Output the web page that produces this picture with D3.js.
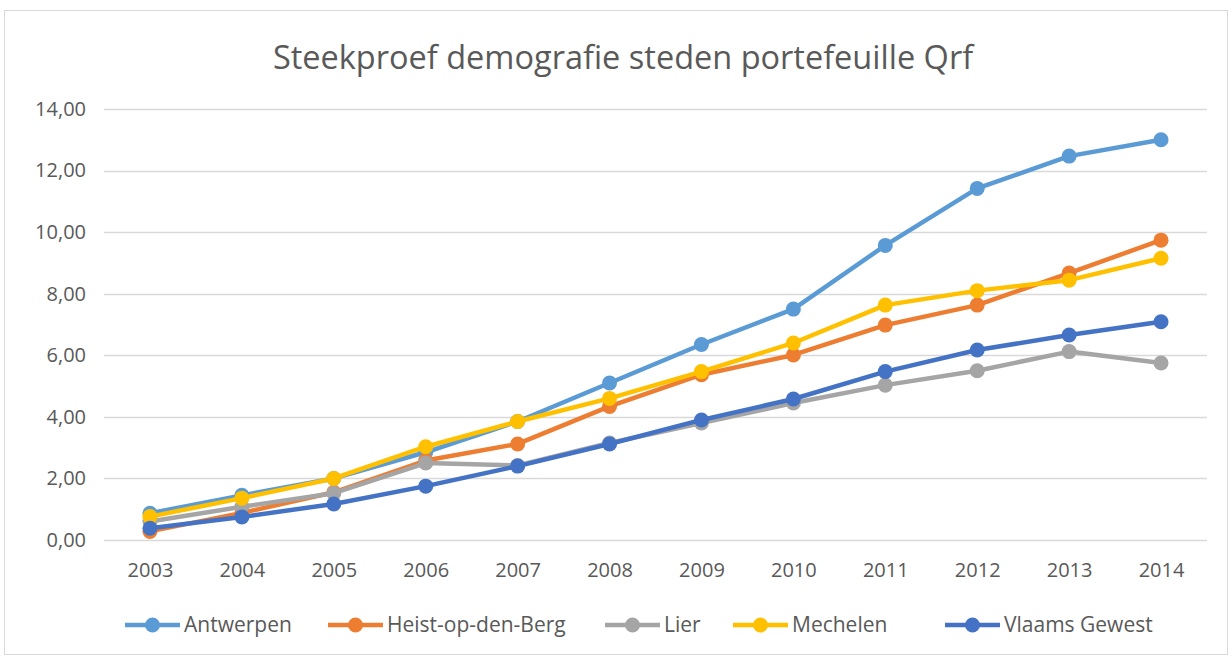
<!DOCTYPE html>
<html>
<head>
<meta charset="utf-8">
<script src="https://cdn.jsdelivr.net/npm/d3@7"></script>
<style>
  html, body { margin: 0; padding: 0; background: #fff; }
  svg { display: block; }
</style>
</head>
<body>
<div id="chart"></div>
<script>
// ---------------------------------------------------------------------------
// Data
// ---------------------------------------------------------------------------
const years = ['2003', '2004', '2005', '2006', '2007', '2008', '2009', '2010', '2011', '2012', '2013', '2014'];
const antwerpen = [0.87, 1.45, 2.0, 2.85, 3.85, 5.1, 6.35, 7.5, 9.57, 11.42, 12.47, 13.0];
const heist = [0.28, 0.88, 1.55, 2.58, 3.12, 4.34, 5.37, 6.01, 6.98, 7.63, 8.67, 9.74];
const lier = [0.6, 1.08, 1.52, 2.5, 2.42, 3.15, 3.8, 4.45, 5.03, 5.5, 6.12, 5.75];
const mechelen = [0.76, 1.36, 2.0, 3.03, 3.85, 4.6, 5.47, 6.4, 7.63, 8.1, 8.44, 9.15];
const vlaams = [0.38, 0.75, 1.17, 1.75, 2.4, 3.12, 3.9, 4.58, 5.47, 6.17, 6.66, 7.09];
const yTicks = [0, 2, 4, 6, 8, 10, 12, 14];

const series = [
  { name: 'Antwerpen', values: antwerpen, color: '#5b9bd5' },
  { name: 'Heist-op-den-Berg', values: heist, color: '#ed7d31' },
  { name: 'Lier', values: lier, color: '#a5a5a5' },
  { name: 'Mechelen', values: mechelen, color: '#ffc000' },
  { name: 'Vlaams Gewest', values: vlaams, color: '#4472c4' }
];

const width = 1232, height = 657;
const margin = { top: 109, right: 25, bottom: 117, left: 104 };
const font = '"Open Sans", sans-serif';
const textColor = '#595959';

const svg = d3.select('#chart').append('svg')
  .attr('width', width)
  .attr('height', height);

// chart frame
svg.append('rect')
  .attr('x', 4.5).attr('y', 10.5)
  .attr('width', 1223).attr('height', 644)
  .attr('fill', '#fff')
  .attr('stroke', '#d9d9d9')
  .attr('stroke-width', 1);

// Scales
const x = d3.scalePoint()
  .domain(years)
  .range([margin.left, width - margin.right])
  .padding(0.5);

const y = d3.scaleLinear()
  .domain([0, 14])
  .range([height - margin.bottom, margin.top]);

// Title
svg.append('text')
  .attr('x', 623).attr('y', 69)
  .attr('text-anchor', 'middle')
  .attr('fill', textColor)
  .attr('font-family', font)
  .attr('font-size', '32.5px')
  .text('Steekproef demografie steden portefeuille Qrf');

// Gridlines
svg.append('g')
  .selectAll('line')
  .data(yTicks)
  .join('line')
  .attr('x1', margin.left)
  .attr('x2', width - margin.right)
  .attr('y1', d => Math.round(y(d)) + 0.5)
  .attr('y2', d => Math.round(y(d)) + 0.5)
  .attr('stroke', '#d9d9d9')
  .attr('stroke-width', 1.5);

// Y axis labels
const fmt = d => d3.format('.2f')(d).replace('.', ',');
const yAxis = svg.append('g')
  .attr('transform', `translate(${margin.left - 15},0)`)
  .call(d3.axisLeft(y).tickValues(yTicks).tickFormat(fmt).tickSize(0));
yAxis.select('.domain').remove();
yAxis.selectAll('text')
  .attr('fill', textColor)
  .attr('font-family', font)
  .attr('font-size', '20px');

// X axis labels
const xAxis = svg.append('g')
  .attr('transform', `translate(0,${height - margin.bottom + 20})`)
  .call(d3.axisBottom(x).tickSize(0));
xAxis.select('.domain').remove();
xAxis.selectAll('text')
  .attr('fill', textColor)
  .attr('font-family', font)
  .attr('font-size', '20px');

// Lines + markers
const line = d3.line()
  .x((d, i) => x(years[i]))
  .y(d => y(d));

const seriesG = svg.append('g')
  .selectAll('g')
  .data(series)
  .join('g');

seriesG.append('path')
  .attr('d', d => line(d.values))
  .attr('fill', 'none')
  .attr('stroke', d => d.color)
  .attr('stroke-width', 4.5)
  .attr('stroke-linejoin', 'round')
  .attr('stroke-linecap', 'round');

seriesG.selectAll('circle')
  .data(d => d.values.map((v, i) => ({ v, i, color: d.color })))
  .join('circle')
  .attr('cx', d => x(years[d.i]))
  .attr('cy', d => y(d.v))
  .attr('r', 7.5)
  .attr('fill', d => d.color);

// Legend
const legendX = [125, 328, 605, 733, 945];
const legend = svg.append('g')
  .selectAll('g')
  .data(series)
  .join('g')
  .attr('transform', (d, i) => `translate(${legendX[i]},625)`);

legend.append('line')
  .attr('x1', 0).attr('x2', 55)
  .attr('stroke', d => d.color)
  .attr('stroke-width', 4.5);

legend.append('circle')
  .attr('cx', 27.5)
  .attr('r', 7.5)
  .attr('fill', d => d.color);

legend.append('text')
  .attr('x', 59)
  .attr('dy', '0.35em')
  .attr('fill', textColor)
  .attr('font-family', font)
  .attr('font-size', '21px')
  .text(d => d.name);
</script>
</body>
</html>
